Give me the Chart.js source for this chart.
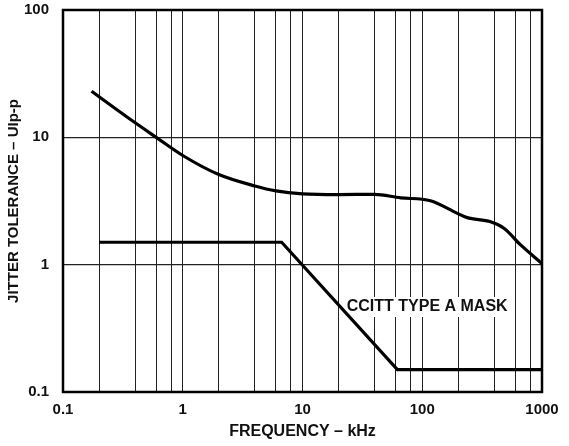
<!DOCTYPE html>
<html>
<head>
<meta charset="utf-8">
<script src="https://cdn.jsdelivr.net/npm/chart.js@4"></script>
<style>
  html, body { margin: 0; padding: 0; background: #fff; }
  #wrap { width: 569px; height: 446px; position: relative; }
</style>
</head>
<body>
<div id="wrap"><canvas id="chart"></canvas></div>
<script>
// values (kHz / UIp-p)
const freqCurve = [0.173, 0.34, 0.6, 1, 2, 4, 6, 10, 20, 40, 66, 117, 196, 237, 372, 481, 663, 1000];
const tolCurve  = [23, 14.5, 10, 7.2, 5.1, 4.15, 3.8, 3.6, 3.55, 3.57, 3.35, 3.18, 2.53, 2.34, 2.17, 1.93, 1.43, 1.02];

const freqMask = [0.2, 6.7, 62, 1000];
const tolMask  = [1.5, 1.5, 0.15, 0.15];

const xGridTicks = [0.1, 0.2, 0.4, 0.6, 0.8, 1, 2, 4, 6, 8, 10, 20, 40, 60, 80, 100, 200, 400, 600, 800, 1000];
const xLabelTicks = [0.1, 1, 10, 100, 1000];
const yTicks = [0.1, 1, 10, 100];
const maskLabel = 'CCITT TYPE A MASK';

const FONT = "'Liberation Sans', Arial, sans-serif";

const toPoints = (xs, ys) => xs.map((x, i) => ({ x: x, y: ys[i] }));

// mask caption on a white patch that cuts the gridlines, then the frame on top
const framePlugin = {
  id: 'frame',
  beforeDatasetsDraw(chart) {
    const { ctx, scales } = chart;
    const cx = scales.x.getPixelForValue(110);
    const cy = scales.y.getPixelForValue(0.465);
    ctx.save();
    ctx.font = 'bold 16px ' + FONT;
    const w = ctx.measureText(maskLabel).width;
    ctx.fillStyle = '#fff';
    ctx.fillRect(cx - w / 2 - 6, cy - 10, w + 12, 20);
    ctx.fillStyle = '#111';
    ctx.textAlign = 'center';
    ctx.textBaseline = 'middle';
    ctx.fillText(maskLabel, cx, cy);
    ctx.restore();
  },
  afterDatasetsDraw(chart) {
    const { ctx, chartArea: a } = chart;
    ctx.save();
    ctx.strokeStyle = '#000';
    ctx.lineWidth = 2.5;
    ctx.strokeRect(a.left, a.top, a.right - a.left, a.bottom - a.top);
    ctx.restore();
  }
};

new Chart(document.getElementById('chart'), {
  type: 'line',
  data: {
    datasets: [
      {
        label: 'Jitter tolerance',
        data: toPoints(freqCurve, tolCurve),
        borderColor: '#000',
        borderWidth: 3.2,
        pointRadius: 0,
        cubicInterpolationMode: 'monotone',
        fill: false
      },
      {
        label: maskLabel,
        data: toPoints(freqMask, tolMask),
        borderColor: '#000',
        borderWidth: 3.2,
        pointRadius: 0,
        tension: 0,
        fill: false
      }
    ]
  },
  options: {
    responsive: true, maintainAspectRatio: false, animation: false,
    layout: { padding: { top: 10, right: 27, left: 0, bottom: 0 } },
    plugins: { legend: { display: false }, tooltip: { enabled: false } },
    scales: {
      x: {
        type: 'logarithmic', min: 0.1, max: 1000,
        afterBuildTicks: s => { s.ticks = xGridTicks.map(v => ({ value: v })); },
        afterFit: s => { s.height = 54; s.paddingLeft = 0; s.paddingRight = 0; },
        grid: { color: '#222', lineWidth: 1, drawTicks: false },
        border: { display: false },
        ticks: {
          autoSkip: false, maxRotation: 0, padding: 9, color: '#111',
          font: { family: FONT, size: 15, weight: 'bold' },
          callback: v => xLabelTicks.includes(v) ? String(v) : ''
        },
        title: {
          display: true, text: 'FREQUENCY – kHz', color: '#111',
          font: { family: FONT, size: 16, weight: 'bold' },
          padding: { top: 5, bottom: 5 }
        }
      },
      y: {
        type: 'logarithmic', min: 0.1, max: 100,
        afterBuildTicks: s => { s.ticks = yTicks.map(v => ({ value: v })); },
        afterFit: s => { s.width = 63; s.paddingTop = 0; s.paddingBottom = 0; },
        grid: { color: '#222', lineWidth: 1.2, drawTicks: false },
        border: { display: false },
        ticks: {
          autoSkip: false, padding: 14, color: '#111',
          font: { family: FONT, size: 15, weight: 'bold' },
          callback: v => String(v)
        },
        title: {
          display: true, text: 'JITTER TOLERANCE – UIp-p', color: '#111',
          font: { family: FONT, size: 15, weight: 'bold' },
          padding: { top: 5, bottom: 5 }
        }
      }
    }
  },
  plugins: [framePlugin]
});
</script>
</body>
</html>
